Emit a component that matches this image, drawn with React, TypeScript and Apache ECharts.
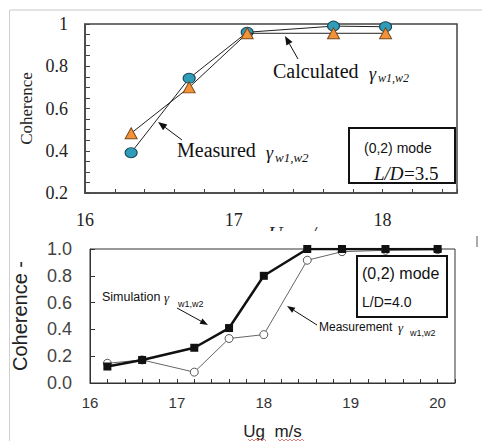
import React, { useEffect, useRef } from "react";
import * as echarts from "echarts";

// ---- Top chart (L/D = 3.5) ----
const topX = [16.31, 16.7, 17.09, 17.67, 18.02];
const topMeasured = [0.391, 0.743, 0.961, 0.99, 0.987];
const topCalculated = [0.483, 0.7, 0.956, 0.956, 0.956];
const topXLabels = [16, 17, 18];
const topYLabels = [0.2, 0.4, 0.6, 0.8, 1];

// ---- Bottom chart (L/D = 4.0) ----
const botX = [16.2, 16.6, 17.2, 17.6, 18.0, 18.5, 18.9, 19.4, 20.0];
const botSimulation = [0.123, 0.172, 0.263, 0.41, 0.8, 1.0, 1.0, 1.0, 1.0];
const botMeasurement = [0.147, 0.172, 0.081, 0.332, 0.361, 0.916, 0.98, 0.99, 0.995];
const botXLabels = [16, 17, 18, 19, 20];

const SERIF = "'Liberation Serif', 'Times New Roman', serif";
const SANS = "'Liberation Sans', Arial, sans-serif";

function near(v: number, list: number[]) {
  return list.some((t) => Math.abs(v - t) < 1e-6);
}

function arrow(x1: number, y1: number, x2: number, y2: number, color: string, width: number, head = 9, hw = 3.5) {
  const dx = x2 - x1, dy = y2 - y1;
  const L = Math.hypot(dx, dy);
  const ux = dx / L, uy = dy / L;
  const bx = x2 - ux * head, by = y2 - uy * head;
  return [
    { type: "line", shape: { x1, y1, x2: bx, y2: by }, style: { stroke: color, lineWidth: width } },
    {
      type: "polygon",
      shape: { points: [[x2, y2], [bx - uy * hw, by + ux * hw], [bx + uy * hw, by - ux * hw]] },
      style: { fill: color },
    },
  ];
}

function txt(x: number, y: number, text: string, fontSize: number, fontFamily: string, extra: any = {}) {
  return {
    type: "text",
    x,
    y,
    z: 10,
    style: { text, fontSize, fontFamily, fill: "#111", align: "left", verticalAlign: "middle", ...extra },
  };
}

export default function App() {
  const ref = useRef<HTMLDivElement>(null);
  useEffect(() => {
    if (!ref.current) return;
    const chart = echarts.init(ref.current, undefined, { renderer: "svg" });
    const option: any = {
      animation: false,
      backgroundColor: "#fff",
      grid: [
        { left: 85, top: 24, width: 372, height: 169, show: true, borderColor: "#444", borderWidth: 1.5 },
        { left: 90, top: 249, width: 365, height: 136, show: true, borderColor: "#333", borderWidth: 1 },
      ],
      xAxis: [
        {
          type: "value",
          gridIndex: 0,
          min: 16,
          max: 18.5,
          interval: 0.2,
          axisLine: { onZero: false, lineStyle: { color: "#444", width: 1.5 } },
          axisTick: { inside: true, length: 4, lineStyle: { color: "#444" } },
          splitLine: { show: false },
          axisLabel: {
            margin: 18,
            fontSize: 18,
            fontFamily: SERIF,
            color: "#222",
            formatter: (v: number) => (near(v, topXLabels) ? String(Math.round(v)) : ""),
          },
        },
        {
          type: "value",
          gridIndex: 1,
          min: 16,
          max: 20.2,
          interval: 0.2,
          axisLine: { onZero: false, lineStyle: { color: "#333", width: 1 } },
          axisTick: { inside: true, length: 4, lineStyle: { color: "#333" } },
          splitLine: { show: false },
          axisLabel: {
            margin: 12,
            fontSize: 15,
            fontFamily: SANS,
            color: "#333",
            formatter: (v: number) => (near(v, botXLabels) ? String(Math.round(v)) : ""),
          },
          name: "Ug  m/s",
          nameLocation: "middle",
          nameGap: 40,
          nameTextStyle: { fontSize: 17, fontFamily: SANS, color: "#222" },
        },
      ],
      yAxis: [
        {
          type: "value",
          gridIndex: 0,
          min: 0.2,
          max: 1,
          interval: 0.05,
          axisLine: { lineStyle: { color: "#444", width: 1.5 } },
          axisTick: { inside: true, length: 5, lineStyle: { color: "#444" } },
          splitLine: { show: false },
          axisLabel: {
            margin: 17,
            fontSize: 18,
            fontFamily: SERIF,
            color: "#222",
            formatter: (v: number) => (near(v, topYLabels) ? String(+v.toFixed(1)) : ""),
          },
          name: "Coherence",
          nameLocation: "middle",
          nameRotate: 90,
          nameGap: 49,
          nameTextStyle: { fontSize: 17, fontFamily: SERIF, color: "#222" },
        },
        {
          type: "value",
          gridIndex: 1,
          min: 0,
          max: 1,
          interval: 0.2,
          axisLine: { lineStyle: { color: "#333", width: 1 } },
          axisTick: { inside: true, length: 5, lineStyle: { color: "#333" } },
          splitLine: { show: false },
          axisLabel: {
            margin: 18,
            fontSize: 18,
            fontFamily: SANS,
            color: "#444",
            formatter: (v: number) => v.toFixed(1),
          },
          name: "Coherence -",
          nameLocation: "middle",
          nameRotate: 90,
          nameGap: 60,
          nameTextStyle: { fontSize: 20, fontFamily: SANS, color: "#222" },
        },
      ],
      series: [
        {
          name: "Measured",
          type: "line",
          xAxisIndex: 0,
          yAxisIndex: 0,
          data: topX.map((x, i) => [x, topMeasured[i]]),
          symbol: "circle",
          symbolSize: [12, 10],
          itemStyle: { color: "#2f9dba", borderColor: "#1d4656", borderWidth: 1 },
          lineStyle: { color: "#222", width: 1 },
          z: 3,
        },
        {
          name: "Calculated",
          type: "line",
          xAxisIndex: 0,
          yAxisIndex: 0,
          data: topX.map((x, i) => [x, topCalculated[i]]),
          symbol: "triangle",
          symbolSize: [12, 11],
          itemStyle: { color: "#f4923a", borderColor: "#7a4a1a", borderWidth: 1 },
          lineStyle: { color: "#222", width: 1 },
          z: 4,
        },
        {
          name: "Measurement",
          type: "line",
          xAxisIndex: 1,
          yAxisIndex: 1,
          data: botX.map((x, i) => [x, botMeasurement[i]]),
          symbol: "circle",
          symbolSize: 8,
          itemStyle: { color: "#fff", borderColor: "#555", borderWidth: 1 },
          lineStyle: { color: "#666", width: 1 },
          z: 3,
        },
        {
          name: "Simulation",
          type: "line",
          xAxisIndex: 1,
          yAxisIndex: 1,
          data: botX.map((x, i) => [x, botSimulation[i]]),
          symbol: "rect",
          symbolSize: 8,
          itemStyle: { color: "#111" },
          lineStyle: { color: "#111", width: 2.5 },
          z: 4,
        },
      ],
      graphic: [
        // clipped top-chart x-axis title, covered by the lower picture
        { type: "text", x: 268, y: 224, z: -3, style: { text: "U", fontSize: 20, fontFamily: SERIF, fontStyle: "italic", fill: "#222", verticalAlign: "top" } },
        { type: "text", x: 296, y: 224, z: -3, style: { text: "m/s", fontSize: 20, fontFamily: SERIF, fontStyle: "italic", fill: "#222", verticalAlign: "top" } },
        { type: "rect", z: -2, shape: { x: 0, y: 231, width: 482, height: 210 }, style: { fill: "#fff" } },
        // screenshot frame lines
        { type: "line", z: 20, shape: { x1: 10, y1: 10, x2: 482, y2: 10 }, style: { stroke: "#c8c8c8", lineWidth: 1 } },
        { type: "line", z: 20, shape: { x1: 9.5, y1: 10, x2: 9.5, y2: 441 }, style: { stroke: "#d0d0d0", lineWidth: 1 } },
        { type: "rect", z: 20, shape: { x: 476, y: 236, width: 2, height: 11 }, style: { fill: "#aaa" } },

        // top annotations
        txt(273, 71, "Calculated", 20, SERIF),
        txt(369, 74, "γ", 18, SERIF, { fontStyle: "italic" }),
        txt(378, 78, "w1,w2", 12, SERIF, { fontStyle: "italic" }),
        ...arrow(298, 59, 285, 36, "#111", 1),
        txt(177, 150, "Measured", 20, SERIF),
        txt(266, 153, "γ", 18, SERIF, { fontStyle: "italic" }),
        txt(275, 157, "w1,w2", 13, SERIF, { fontStyle: "italic" }),
        ...arrow(182, 140, 158, 122, "#111", 1),
        {
          type: "rect",
          z: 10,
          shape: { x: 349, y: 128, width: 106, height: 55 },
          style: { fill: "#fff", stroke: "#111", lineWidth: 2 },
        },
        txt(364, 148, "(0,2) mode", 14, SANS),
        txt(374, 173, "L/D", 19, SERIF, { fontStyle: "italic" }),
        txt(404, 173, "=3.5", 19, SERIF),

        // bottom annotations
        txt(102, 297, "Simulation", 12.5, SANS),
        txt(164, 297, "γ", 13, SERIF, { fontStyle: "italic" }),
        txt(178, 304, "w1,w2", 9, SANS),
        ...arrow(177, 308, 208, 325, "#111", 1, 8, 3),
        txt(319, 327, "Measurement", 12, SANS),
        txt(398, 327, "γ", 13, SERIF, { fontStyle: "italic" }),
        txt(410, 333, "w1,w2", 9, SANS),
        ...arrow(317, 325, 287, 306, "#111", 1, 8, 3),
        {
          type: "rect",
          z: 10,
          shape: { x: 357, y: 256, width: 90, height: 61 },
          style: { fill: "#fff", stroke: "#111", lineWidth: 2 },
        },
        txt(362, 273, "(0,2) mode", 16, SANS),
        txt(362, 302, "L/D=4.0", 14, SANS),

        // spell-check squiggles under the x title
        {
          type: "polyline",
          z: 10,
          shape: { points: [[248, 439], [250, 441], [252, 439], [254, 441], [256, 439], [258, 441], [260, 439], [262, 441], [264, 439], [266, 441]] },
          style: { stroke: "#e06060", lineWidth: 0.8, fill: "none" },
        },
        {
          type: "polyline",
          z: 10,
          shape: { points: [[278, 439], [280, 441], [282, 439], [284, 441], [286, 439], [288, 441], [290, 439], [292, 441], [294, 439], [296, 441], [298, 439], [300, 441], [302, 439], [304, 441]] },
          style: { stroke: "#e06060", lineWidth: 0.8, fill: "none" },
        },
      ],
    };
    chart.setOption(option);
    return () => chart.dispose();
  }, []);
  return <div ref={ref} style={{ position: "fixed", left: 0, top: 0, width: 482, height: 441 }} />;
}
